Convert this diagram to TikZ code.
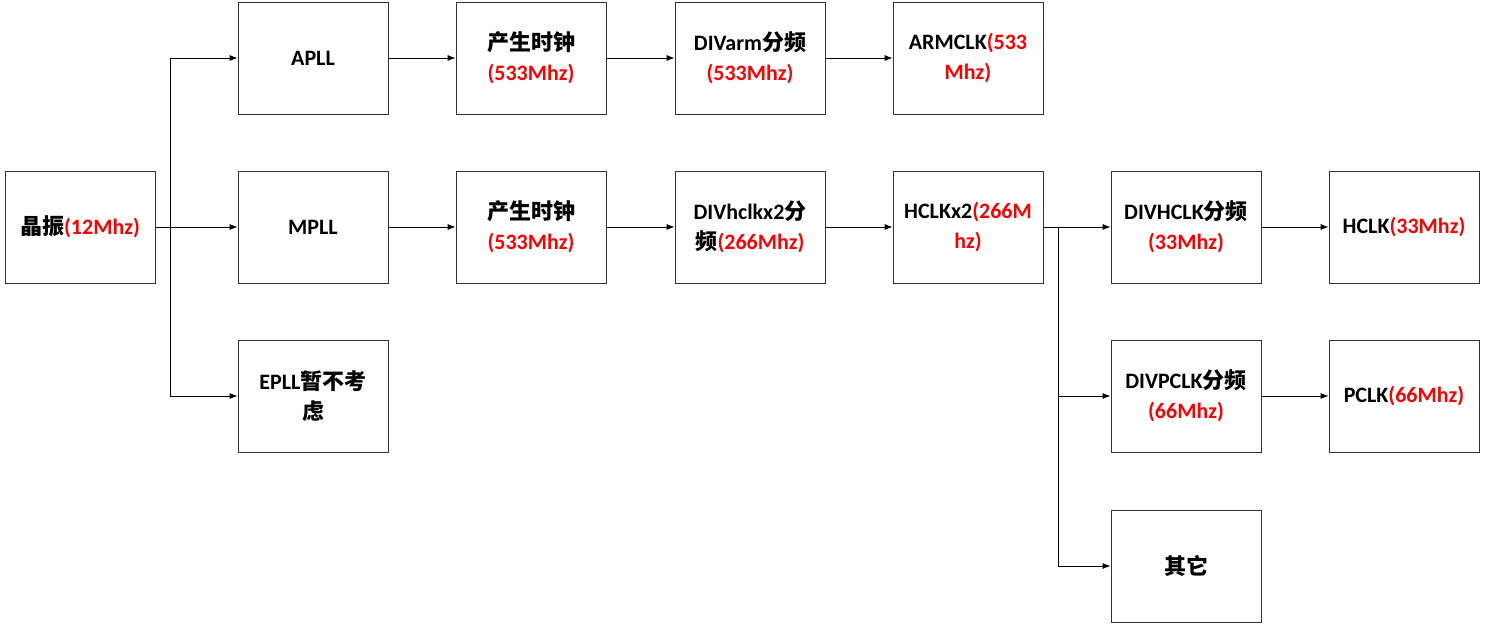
\documentclass[tikz,border=0pt]{standalone}
\usepackage{fontspec}
\setmainfont{Carlito}
\newfontfamily\cjk{Noto Sans CJK SC}
\usetikzlibrary{arrows.meta}
\newcommand{\zh}[1]{{\cjk\bfseries #1}}
\newcommand{\mhz}[1]{\textcolor{red}{#1}}
\tikzset{
  blk/.style={draw=black!80, minimum width=75pt, minimum height=56pt, inner sep=1pt,
    align=center, font=\fontsize{11}{15}\selectfont\bfseries},
  conn/.style={-{Latex[length=4pt,width=3pt]}, black}
}
\begin{document}
\begin{tikzpicture}[x=0.5pt,y=-0.5pt]
\useasboundingbox (0,0) rectangle (1486,624);
% first column
\node[blk] (osc) at (80,227) {\zh{晶振}\mhz{(12Mhz)}};
% pll row
\node[blk] (apll) at (313,58) {APLL};
\node[blk] (mpll) at (313,227) {MPLL};
\node[blk] (epll) at (313,396) {EPLL\zh{暂不考}\\\zh{虑}};
% apll chain
\node[blk] (gena) at (531,58) {\zh{产生时钟}\\\mhz{(533Mhz)}};
\node[blk] (divarm) at (750,58) {DIVarm\zh{分频}\\\mhz{(533Mhz)}};
\node[blk] (armclk) at (968,58) {ARMCLK\mhz{(533}\\\mhz{Mhz)}};
% mpll chain
\node[blk] (genm) at (531,227) {\zh{产生时钟}\\\mhz{(533Mhz)}};
\node[blk] (divh2) at (750,227) {DIVhclkx2\zh{分}\\\zh{频}\mhz{(266Mhz)}};
\node[blk] (hclkx2) at (968,227) {HCLKx2\mhz{(266M}\\\mhz{hz)}};
\node[blk] (divhclk) at (1186,227) {DIVHCLK\zh{分频}\\\mhz{(33Mhz)}};
\node[blk] (hclk) at (1404,227) {HCLK\mhz{(33Mhz)}};
\node[blk] (divpclk) at (1186,396) {DIVPCLK\zh{分频}\\\mhz{(66Mhz)}};
\node[blk] (pclk) at (1404,396) {PCLK\mhz{(66Mhz)}};
\node[blk] (other) at (1186,566) {\zh{其它}};
% junctions
\coordinate (ja) at (170,227);
\coordinate (jb) at (1058,227);
\draw (osc.east) -- (ja);
\draw[conn] (ja) |- (apll.west);
\draw[conn] (ja) -- (mpll.west);
\draw[conn] (ja) |- (epll.west);
\draw[conn] (apll) -- (gena);
\draw[conn] (gena) -- (divarm);
\draw[conn] (divarm) -- (armclk);
\draw[conn] (mpll) -- (genm);
\draw[conn] (genm) -- (divh2);
\draw[conn] (divh2) -- (hclkx2);
\draw (hclkx2.east) -- (jb);
\draw[conn] (jb) -- (divhclk.west);
\draw[conn] (jb) |- (divpclk.west);
\draw[conn] (jb) |- (other.west);
\draw[conn] (divhclk) -- (hclk);
\draw[conn] (divpclk) -- (pclk);
\end{tikzpicture}
\end{document}
